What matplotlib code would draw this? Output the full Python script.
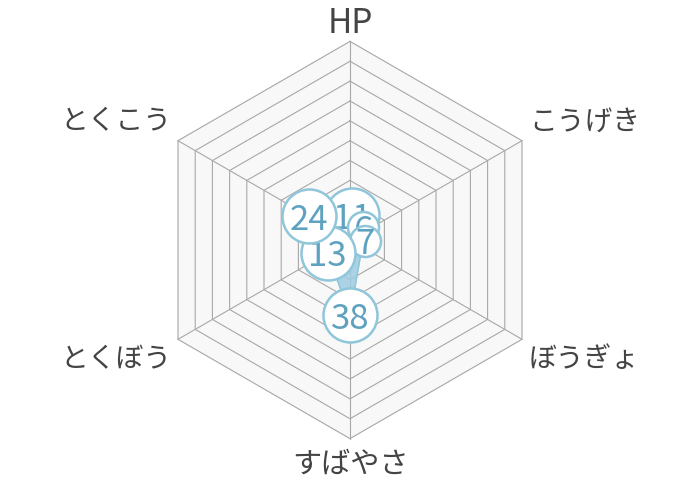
import numpy as np
import matplotlib
matplotlib.use("Agg")
import matplotlib.pyplot as plt

plt.rcParams['font.family'] = ['Noto Sans CJK JP', 'DejaVu Sans']

# data
labels = ['HP', 'こうげき', 'ぼうぎょ', 'すばやさ', 'とくぼう', 'とくこう']
values = [11, 6, 7, 38, 13, 24]
vmax = 100
levels = np.arange(10, 101, 10)

# angles: HP on top, then clockwise
ang = np.deg2rad(90 - 60 * np.arange(len(labels)))
cs, sn = np.cos(ang), np.sin(ang)

fig = plt.figure(figsize=(7, 4.8), dpi=100)
ax = fig.add_axes([0, 0, 1, 1])
px = 198.6 / vmax  # pixels per unit
ax.set_xlim(-350 / px, 350 / px)
ax.set_ylim(-240 / px, 240 / px)
ax.set_aspect('equal')
ax.axis('off')

# background + hex grid
ax.fill(vmax * cs, vmax * sn, color='#f8f8f8', zorder=0)
for lv in levels:
    ax.plot(np.append(lv * cs, lv * cs[0]), np.append(lv * sn, lv * sn[0]),
            color='#a8a8a8', lw=0.8, zorder=1)
for c, s in zip(cs, sn):
    ax.plot([0, vmax * c], [0, vmax * s], color='#a8a8a8', lw=0.8, zorder=1)

# data polygon
v = np.array(values)
ax.fill(v * cs, v * sn, color='#9fcde2', alpha=0.85, zorder=2)
ax.plot(np.append(v * cs, v[0] * cs[0]), np.append(v * sn, v[0] * sn[0]),
        color='#8fc6da', lw=1, zorder=2)

# value bubbles (small nudges so the crowded ones stay readable)
nudge = [(2, 3), (3, 7), (3, 6), (0, 0), (0, 0), (0, 0)]  # px
for i, val in enumerate(values):
    txt = str(val)
    r = 4 + 11.5 * len(txt)  # radius in px
    x = val * cs[i] + nudge[i][0] / px
    y = val * sn[i] + nudge[i][1] / px
    ax.scatter(x, y, s=(2 * r * 0.72) ** 2, facecolor='white',
               edgecolor='#8fc6da', linewidth=1.8, zorder=3 + 2 * i)
    ax.text(x, y, txt, ha='center', va='center_baseline',
            fontsize=25, color='#5fa2c0', zorder=4 + 2 * i)

# axis labels
offs = [(0, 6), (5, 14), (5, -14), (0, -8), (-5, -14), (-5, 14)]
has = ['center', 'left', 'left', 'center', 'right', 'right']
vas = ['baseline', 'center', 'center', 'top', 'center', 'center']
sizes = [24, 20, 20, 21, 20, 20]
for i, lab in enumerate(labels):
    ax.annotate(lab, (vmax * cs[i], vmax * sn[i]), xytext=offs[i],
                textcoords='offset points', ha=has[i], va=vas[i],
                fontsize=sizes[i], color='#444444')

fig.savefig('out.png', dpi=100)
